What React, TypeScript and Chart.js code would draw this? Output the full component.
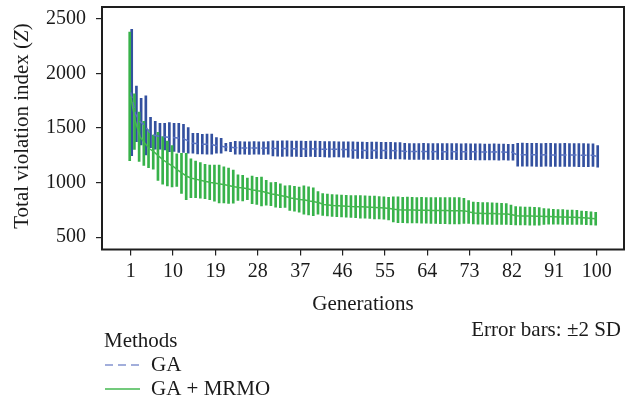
import React, { useEffect, useRef } from "react";
import { Chart, registerables } from "chart.js";

Chart.register(...registerables);

// ---- data ----
const generations: number[] = [
  1, 2, 3, 4, 5, 6, 7, 8, 9, 10, 11, 12, 13, 14, 15, 16, 17, 18, 19, 20,
  21, 22, 23, 24, 25, 26, 27, 28, 29, 30, 31, 32, 33, 34, 35, 36, 37, 38, 39, 40,
  41, 42, 43, 44, 45, 46, 47, 48, 49, 50, 51, 52, 53, 54, 55, 56, 57, 58, 59, 60,
  61, 62, 63, 64, 65, 66, 67, 68, 69, 70, 71, 72, 73, 74, 75, 76, 77, 78, 79, 80,
  81, 82, 83, 84, 85, 86, 87, 88, 89, 90, 91, 92, 93, 94, 95, 96, 97, 98, 99, 100,
];
const xTickValues = [1, 10, 19, 28, 37, 46, 55, 64, 73, 82, 91, 100];
const yTickValues = [500, 1000, 1500, 2000, 2500];

const gaMean = [
  1827, 1630, 1559, 1525, 1460, 1434, 1425, 1421, 1417, 1414,
  1410, 1405, 1387, 1361, 1358, 1353, 1352, 1352, 1341, 1338,
  1326, 1327, 1320, 1318, 1318, 1316, 1318, 1317, 1316, 1318,
  1314, 1312, 1312, 1313, 1311, 1310, 1310, 1308, 1310, 1309,
  1308, 1306, 1305, 1306, 1305, 1304, 1303, 1298, 1296, 1296,
  1295, 1295, 1296, 1294, 1295, 1294, 1293, 1292, 1287, 1286,
  1285, 1285, 1286, 1285, 1284, 1285, 1284, 1284, 1285, 1284,
  1283, 1284, 1283, 1282, 1282, 1281, 1281, 1282, 1280, 1281,
  1279, 1278, 1256, 1256, 1255, 1256, 1255, 1254, 1255, 1254,
  1254, 1253, 1254, 1253, 1253, 1252, 1252, 1251, 1252, 1241,
];
const gaTwoSD = [
  579, 255, 213, 271, 139, 128, 119, 122, 133, 129,
  134, 129, 117, 91, 95, 90, 92, 92, 71, 68,
  35, 43, 58, 58, 57, 58, 58, 57, 58, 58,
  70, 70, 71, 70, 70, 70, 71, 70, 70, 71,
  70, 70, 71, 70, 70, 71, 70, 75, 75, 75,
  75, 76, 75, 75, 75, 76, 75, 75, 73, 73,
  73, 73, 74, 73, 73, 73, 73, 74, 73, 73,
  73, 73, 73, 73, 74, 73, 73, 73, 73, 73,
  73, 73, 105, 106, 105, 105, 106, 105, 105, 106,
  105, 105, 106, 105, 105, 106, 105, 105, 104, 99,
];

const mrmoMean = [
  1791, 1560, 1420, 1360, 1310, 1280, 1240, 1205, 1175, 1150,
  1115, 1085, 1056, 1040, 1030, 1020, 1010, 1002, 995, 988,
  980, 972, 963, 955, 950, 942, 933, 925, 918, 908,
  895, 888, 880, 872, 860, 852, 845, 840, 832, 825,
  815, 800, 795, 790, 788, 786, 783, 781, 780, 778,
  776, 774, 772, 770, 767, 762, 755, 751, 750, 749,
  748, 747, 747, 746, 745, 745, 744, 744, 743, 743,
  742, 741, 730, 721, 720, 718, 717, 716, 714, 713,
  712, 705, 697, 695, 694, 693, 692, 691, 690, 690,
  688, 686, 685, 683, 682, 681, 678, 675, 672, 669,
];
const mrmoTwoSD = [
  590, 255, 226, 203, 174, 156, 220, 218, 206, 190,
  149, 183, 213, 178, 168, 163, 157, 158, 166, 174,
  165, 162, 152, 117, 118, 99, 126, 124, 132, 114,
  106, 114, 110, 99, 114, 114, 115, 130, 129, 127,
  103, 100, 100, 100, 100, 100, 100, 100, 102, 103,
  102, 103, 104, 103, 102, 103, 115, 118, 116, 118,
  117, 116, 118, 117, 118, 118, 120, 120, 121, 121,
  120, 115, 105, 100, 100, 99, 99, 99, 98, 97,
  96, 90, 84, 83, 82, 82, 82, 80, 72, 70,
  68, 67, 68, 66, 66, 64, 62, 61, 60, 58,
];

const SERIF = "'Liberation Serif', 'Times New Roman', serif";
const BLUE_BAR = "#33509f";
const BLUE_LINE = "#5b74c2";
const BLUE_LEGEND = "#8494d0";
const GREEN_BAR = "#37b24a";
const GREEN_LINE = "#45b850";

const textPlugin = {
  id: "extraText",
  afterDraw(chart: any) {
    const ctx = chart.ctx as CanvasRenderingContext2D;
    const a = chart.chartArea;
    ctx.save();
    // frame
    ctx.strokeStyle = "#1e1e1e";
    ctx.lineWidth = 2;
    ctx.strokeRect(a.left, a.top, a.right - a.left, a.bottom - a.top);

    ctx.fillStyle = "#1a1a1a";
    ctx.textBaseline = "middle";
    // y title with italic Z
    const normal = `21px ${SERIF}`;
    const italic = `italic 21px ${SERIF}`;
    const parts: [string, string][] = [
      ["Total violation index (", normal],
      ["Z", italic],
      [")", normal],
    ];
    let total = 0;
    for (const [t, f] of parts) {
      ctx.font = f;
      total += ctx.measureText(t).width;
    }
    ctx.save();
    ctx.translate(22, 126);
    ctx.rotate(-Math.PI / 2);
    let px = -total / 2;
    ctx.textAlign = "left";
    for (const [t, f] of parts) {
      ctx.font = f;
      ctx.fillText(t, px, 0);
      px += ctx.measureText(t).width;
    }
    ctx.restore();

    // x title
    ctx.font = normal;
    ctx.textAlign = "center";
    ctx.fillText("Generations", (a.left + a.right) / 2, 304);

    // error bar note
    ctx.textAlign = "right";
    ctx.fillText("Error bars: \u00b12 SD", 621, 330);

    // legend
    ctx.textAlign = "left";
    ctx.fillText("Methods", 104, 341);
    ctx.fillText("GA", 151, 365);
    ctx.fillText("GA + MRMO", 151, 389);

    ctx.lineWidth = 1.5;
    ctx.strokeStyle = BLUE_LEGEND;
    ctx.setLineDash([8, 5]);
    ctx.beginPath();
    ctx.moveTo(105, 365);
    ctx.lineTo(140, 365);
    ctx.stroke();
    ctx.setLineDash([]);
    ctx.strokeStyle = GREEN_LINE;
    ctx.beginPath();
    ctx.moveTo(105, 389);
    ctx.lineTo(140, 389);
    ctx.stroke();
    ctx.restore();
  },
};

export default function App() {
  const ref = useRef<HTMLCanvasElement | null>(null);

  useEffect(() => {
    if (!ref.current) return;
    const gaBars = generations.map((g, i) => ({ x: g, y: [gaMean[i] - gaTwoSD[i], gaMean[i] + gaTwoSD[i]] }));
    const mrmoBars = generations.map((g, i) => ({ x: g, y: [mrmoMean[i] - mrmoTwoSD[i], mrmoMean[i] + mrmoTwoSD[i]] }));
    const gaLine = generations.map((g, i) => ({ x: g, y: gaMean[i] }));
    const mrmoLine = generations.map((g, i) => ({ x: g, y: mrmoMean[i] }));

    const chart = new Chart(ref.current, {
      type: "bar",
      data: {
        datasets: [
          {
            type: "bar",
            label: "GA ±2 SD",
            data: gaBars as any,
            backgroundColor: BLUE_BAR,
            barThickness: 2,
            order: 4,
          },
          {
            type: "bar",
            label: "GA + MRMO ±2 SD",
            data: mrmoBars as any,
            backgroundColor: GREEN_BAR,
            barThickness: 2,
            order: 3,
          },
          {
            type: "line",
            label: "GA",
            data: gaLine as any,
            borderColor: BLUE_LINE,
            borderWidth: 1.5,
            borderDash: [6, 4],
            pointRadius: 0,
            tension: 0,
            order: 2,
          },
          {
            type: "line",
            label: "GA + MRMO",
            data: mrmoLine as any,
            borderColor: GREEN_LINE,
            borderWidth: 1.5,
            pointRadius: 0,
            tension: 0,
            order: 1,
          },
        ],
      },
      options: {
        animation: false,
        responsive: true,
        maintainAspectRatio: false,
        layout: { padding: { top: 7, right: 9, left: 0, bottom: 0 } },
        plugins: {
          legend: { display: false },
          tooltip: { enabled: false },
        },
        scales: {
          x: {
            type: "linear",
            min: -5.1,
            max: 105.8,
            offset: false,
            border: { display: false },
            grid: {
              display: true,
              offset: false,
              drawOnChartArea: false,
              drawTicks: true,
              tickLength: 6,
              color: "#222",
              lineWidth: 1.2,
            },
            ticks: {
              font: { family: SERIF, size: 20 },
              color: "#1a1a1a",
              padding: 4,
              maxRotation: 0,
              autoSkip: false,
              callback: (v: any) => String(v),
            },
            afterBuildTicks: (s: any) => {
              s.ticks = xTickValues.map((v) => ({ value: v }));
            },
            afterFit: (s: any) => {
              s.height = 403 - 249.5;
              s.paddingLeft = 0;
              s.paddingRight = 0;
            },
          },
          y: {
            type: "linear",
            min: 387,
            max: 2610,
            border: { display: false },
            grid: {
              display: true,
              drawOnChartArea: false,
              drawTicks: true,
              tickLength: 6,
              color: "#222",
              lineWidth: 1.2,
            },
            ticks: {
              font: { family: SERIF, size: 20 },
              color: "#1a1a1a",
              padding: 10,
              callback: (v: any) => String(v),
            },
            afterBuildTicks: (s: any) => {
              s.ticks = yTickValues.map((v) => ({ value: v }));
            },
            afterFit: (s: any) => {
              s.width = 102;
              s.paddingTop = 0;
              s.paddingBottom = 0;
            },
          },
        },
      },
      plugins: [textPlugin],
    });
    return () => chart.destroy();
  }, []);

  return (
    <div style={{ position: "fixed", left: 0, top: 0, width: 633, height: 403, background: "#fff" }}>
      <canvas ref={ref} />
    </div>
  );
}
